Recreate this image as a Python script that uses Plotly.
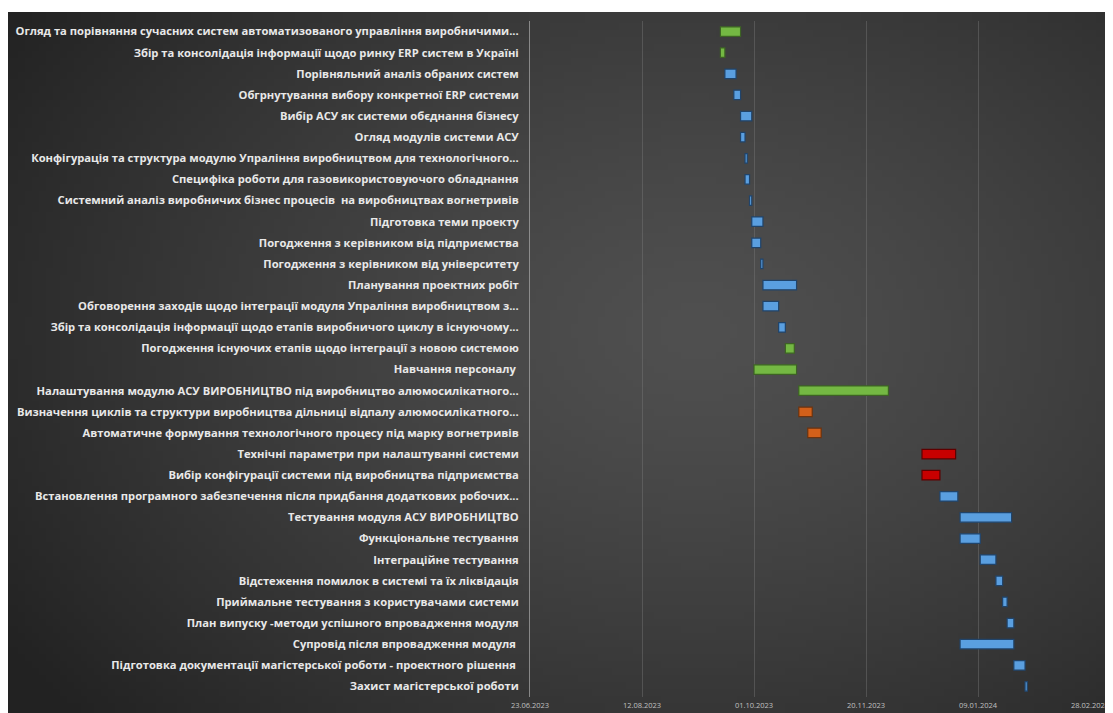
import base64, struct, zlib
import numpy as np
import plotly.graph_objects as go

# ---------------- data ----------------
tasks = [
    "Огляд та порівняння сучасних систем автоматизованого управління виробничими...",
    "Збір та консолідація інформації щодо ринку ERP систем в Україні",
    "Порівняльний аналіз обраних систем",
    "Обгрнутування вибору конкретної ERP системи",
    "Вибір АСУ як системи обєднання бізнесу",
    "Огляд модулів системи АСУ",
    "Конфігурація та структура модулю Упраління виробництвом для технологічного...",
    "Специфіка роботи для газовикористовуючого обладнання",
    "Системний аналіз виробничих бізнес процесів  на виробництвах вогнетривів",
    "Підготовка теми проекту",
    "Погодження з керівником від підприємства",
    "Погодження з керівником від університету",
    "Планування проектних робіт",
    "Обговорення заходів щодо інтеграції модуля Упраління виробництвом з...",
    "Збір та консолідація інформації щодо етапів виробничого циклу в існуючому...",
    "Погодження існуючих етапів щодо інтеграції з новою системою",
    "Навчання персоналу ",
    "Налаштування модулю АСУ ВИРОБНИЦТВО під виробництво алюмосилікатного...",
    "Визначення циклів та структури виробництва дільниці відпалу алюмосилікатного...",
    "Автоматичне формування технологічного процесу під марку вогнетривів",
    "Технічні параметри при налаштуванні системи",
    "Вибір конфігурації системи під виробництва підприємства",
    "Встановлення програмного забезпечення після придбання додаткових робочих...",
    "Тестування модуля АСУ ВИРОБНИЦТВО",
    "Функціональне тестування",
    "Інтеграційне тестування",
    "Відстеження помилок в системі та їх ліквідація",
    "Приймальне тестування з користувачами системи",
    "План випуску -методи успішного впровадження модуля",
    "Супровід після впровадження модуля ",
    "Підготовка документації магістерської роботи - проектного рішення ",
    "Захист магістерської роботи",
]
start_dates = [
    "2023-09-16", "2023-09-16", "2023-09-18", "2023-09-22", "2023-09-25",
    "2023-09-25", "2023-09-27", "2023-09-27", "2023-09-29", "2023-09-30",
    "2023-09-30", "2023-10-04", "2023-10-05", "2023-10-05", "2023-10-12",
    "2023-10-15", "2023-10-01", "2023-10-21", "2023-10-21", "2023-10-25",
    "2023-12-15", "2023-12-15", "2023-12-23", "2024-01-01", "2024-01-01",
    "2024-01-10", "2024-01-17", "2024-01-20", "2024-01-22", "2024-01-01",
    "2024-01-25", "2024-01-30",
]
end_dates = [
    "2023-09-25", "2023-09-18", "2023-09-23", "2023-09-25", "2023-09-30",
    "2023-09-27", "2023-09-28", "2023-09-29", "2023-09-30", "2023-10-05",
    "2023-10-04", "2023-10-05", "2023-10-20", "2023-10-12", "2023-10-15",
    "2023-10-19", "2023-10-20", "2023-11-30", "2023-10-27", "2023-10-31",
    "2023-12-30", "2023-12-23", "2023-12-31", "2024-01-24", "2024-01-10",
    "2024-01-17", "2024-01-20", "2024-01-22", "2024-01-25", "2024-01-25",
    "2024-01-30", "2024-01-31",
]
groups = [
    "green", "green", "blue", "blue", "blue", "blue", "blue", "blue", "blue",
    "blue", "blue", "blue", "blue", "blue", "blue", "green", "green", "green",
    "orange", "orange", "red", "red", "blue", "blue", "blue", "blue", "blue",
    "blue", "blue", "blue", "blue", "blue",
]
tick_dates = ["2023-06-23", "2023-08-12", "2023-10-01", "2023-11-20", "2024-01-09", "2024-02-28"]
tick_labels = ["23.06.2023", "12.08.2023", "01.10.2023", "20.11.2023", "09.01.2024", "28.02.2024"]

# ---------------- style ----------------
group_colors = {"green": "#74b843", "blue": "#5a9fe0", "orange": "#d2601a", "red": "#c80000"}
group_lines = {"green": "#3d6324", "blue": "#20446b", "orange": "#6b3310", "red": "#5e0000"}

# the page adds an 8px body margin, so the figure is 8px smaller and shifted
W, H = 1105, 705
ML, MR, MT, MB = 522, 23, 13, 16
PW, PH = W - ML - MR, H - MT - MB


def gradient_png(w, h):
    yy, xx = np.mgrid[0:h, 0:w]
    cx, cy = 0.62 * w, 0.45 * h
    d = np.sqrt(((xx - cx) / (0.75 * w)) ** 2 + ((yy - cy) / (0.85 * h)) ** 2)
    d = np.clip(d, 0, 1)
    v = (0x50 - (0x50 - 0x22) * d ** 1.3).astype(np.uint8)
    raw = b"".join(b"\x00" + bytes(np.repeat(row, 3)) for row in v)

    def chunk(t, data):
        c = struct.pack(">I", len(data)) + t + data
        return c + struct.pack(">I", zlib.crc32(t + data) & 0xffffffff)

    png = b"\x89PNG\r\n\x1a\n" + chunk(b"IHDR", struct.pack(">IIBBBBB", w, h, 8, 2, 0, 0, 0))
    png += chunk(b"IDAT", zlib.compress(raw, 9)) + chunk(b"IEND", b"")
    return "data:image/png;base64," + base64.b64encode(png).decode()


starts = np.array(start_dates, dtype="datetime64[ms]")
ends = np.array(end_dates, dtype="datetime64[ms]")
durations = (ends - starts).astype(np.int64)

fig = go.Figure()
fig.add_trace(go.Bar(
    y=tasks,
    x=durations,
    base=list(start_dates),
    orientation="h",
    width=0.45,
    marker=dict(color=[group_colors[g] for g in groups],
                line=dict(color=[group_lines[g] for g in groups], width=1.2)),
    showlegend=False,
))

# dark background panel (from left edge / 4px below top to the figure edges)
x0 = (0 - ML) / PW
x1 = (W - ML) / PW
y0 = -MB / PH
y1 = (H - MB - 4) / PH
fig.add_layout_image(dict(
    source=gradient_png(160, 100), xref="paper", yref="paper",
    x=x0, y=y1, sizex=x1 - x0, sizey=y1 - y0,
    xanchor="left", yanchor="top", sizing="stretch", layer="below",
))

fig.update_layout(
    template="none",
    width=W, height=H,
    margin=dict(l=ML, r=MR, t=MT, b=MB, pad=0, autoexpand=False),
    paper_bgcolor="white",
    plot_bgcolor="rgba(0,0,0,0)",
    xaxis=dict(
        type="date", automargin=False,
        range=["2023-06-23", "2024-02-28"],
        tickvals=tick_dates, ticktext=tick_labels,
        showgrid=True, gridcolor="rgba(125,125,125,0.4)", gridwidth=1,
        zeroline=False, showline=False, ticks="",
        tickfont=dict(family="Open Sans", size=7.5, color="#c0c0c0"),
        ticklabelstandoff=2,
    ),
    yaxis=dict(
        automargin=False,
        autorange="reversed",
        showgrid=False, zeroline=False,
        showline=True, linecolor="rgba(170,170,170,0.7)", linewidth=1,
        ticks="", ticklabelstandoff=8,
        tickfont=dict(family="Open Sans", size=11.2, color="#e8e8e8", weight="bold"),
    ),
)

fig.write_html("out.html")
